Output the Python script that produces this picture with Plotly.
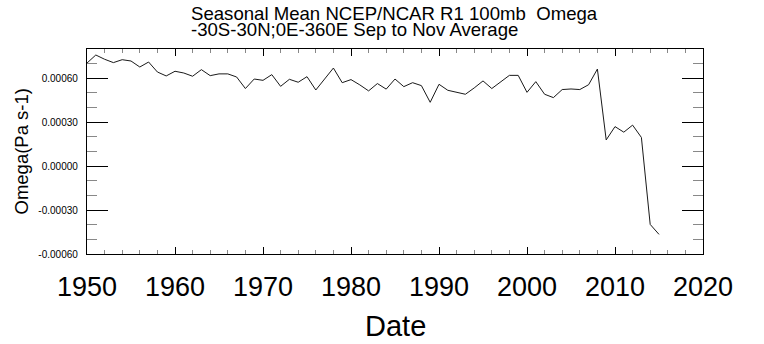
import plotly.graph_objects as go

# ---- data ----
years = list(range(1950, 2016))
omega = [
    0.000704, 0.000759, 0.000730, 0.000707, 0.000727, 0.000718, 0.000677, 0.000711, 0.000643, 0.000616,
    0.000648, 0.000636, 0.000614, 0.000659, 0.000618, 0.000630, 0.000630, 0.000609, 0.000530, 0.000595,
    0.000586, 0.000625, 0.000545, 0.000593, 0.000573, 0.000611, 0.000520, 0.000595, 0.000670, 0.000570,
    0.000591, 0.000555, 0.000514, 0.000564, 0.000526, 0.000595, 0.000543, 0.000570, 0.000550, 0.000436,
    0.000559, 0.000518, 0.000507, 0.000491, 0.000534, 0.000582, 0.000530, 0.000575, 0.000620, 0.000620,
    0.000504, 0.000577, 0.000491, 0.000468, 0.000523, 0.000527, 0.000523, 0.000556, 0.000663, 0.000179,
    0.000270, 0.000232, 0.000280, 0.000196, -0.000398, -0.000466,
]
x_tick_vals = [1950, 1960, 1970, 1980, 1990, 2000, 2010, 2020]
x_tick_text = ["1950", "1960", "1970", "1980", "1990", "2000", "2010", "2020"]
y_tick_vals = [-0.0006, -0.0003, 0.0, 0.0003, 0.0006]
y_tick_text = ["-0.00060", "-0.00030", "0.00000", "0.00030", "0.00060"]
title_lines = ["Seasonal Mean NCEP/NCAR R1 100mb\u00a0 Omega",
               "-30S-30N;0E-360E Sep to Nov Average"]
x_title = "Date"
y_title = "Omega(Pa s-1)"

FONT = "Liberation Sans, Arial, Helvetica, sans-serif"

fig = go.Figure()
fig.add_trace(go.Scatter(x=years, y=omega, mode="lines",
                         line=dict(color="#1a1a1a", width=1), showlegend=False,
                         cliponaxis=True))

fig.update_layout(
    width=764, height=344,
    margin=dict(l=87, r=61, t=49, b=90, pad=0),
    paper_bgcolor="white", plot_bgcolor="white",
    font=dict(family=FONT, color="black"),
)

fig.update_xaxes(
    range=[1950, 2020], showgrid=False, zeroline=False,
    showline=True, linecolor="black", linewidth=1.3, mirror="ticks",
    ticks="inside", ticklen=7, tickwidth=1.2, tickcolor="black",
    tickvals=x_tick_vals, ticktext=x_tick_text,
    tickfont=dict(size=27, family=FONT, color="black"),
    ticklabelstandoff=8,
    minor=dict(ticks="inside", ticklen=4, dtick=2, tick0=1950, tickwidth=1, tickcolor="#888888", showgrid=False),
)
fig.update_yaxes(
    range=[-0.0006, 0.0008], showgrid=False, zeroline=False,
    showline=True, linecolor="black", linewidth=1.3, mirror="ticks",
    ticks="inside", ticklen=21, tickwidth=1.2, tickcolor="black",
    tickvals=y_tick_vals, ticktext=y_tick_text,
    tickfont=dict(size=10, family=FONT, color="black"),
    ticklabelstandoff=6,
    minor=dict(ticks="inside", ticklen=10, dtick=0.0001, tick0=0, tickwidth=1, tickcolor="#888888", showgrid=False),
)

# titles as annotations for precise placement
fig.add_annotation(text=title_lines[0], xref="paper", yref="paper", x=0, y=1,
                   xanchor="left", yanchor="middle", xshift=102, yshift=36,
                   showarrow=False, font=dict(size=18.6, family=FONT, color="black"))
fig.add_annotation(text=title_lines[1], xref="paper", yref="paper", x=0, y=1,
                   xanchor="left", yanchor="middle", xshift=102, yshift=20,
                   showarrow=False, font=dict(size=18.6, family=FONT, color="black"))
fig.add_annotation(text=x_title, xref="paper", yref="paper", x=0.5, y=0,
                   xanchor="center", yanchor="middle", yshift=-72,
                   showarrow=False, font=dict(size=29, family=FONT, color="black"))
fig.add_annotation(text=y_title, xref="paper", yref="paper", x=0, y=0.5,
                   xanchor="center", yanchor="middle", xshift=-66, textangle=-90,
                   showarrow=False, font=dict(size=18.5, family=FONT, color="black"))

fig.write_html("out.html")
